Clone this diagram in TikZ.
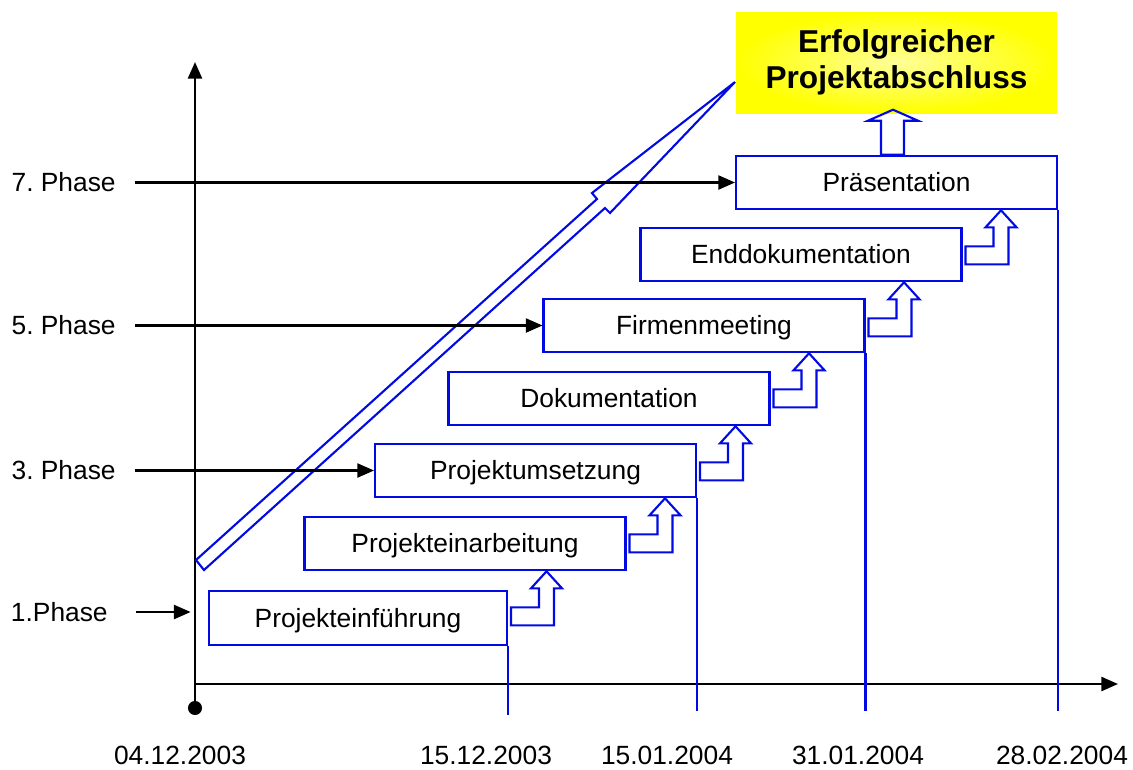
\documentclass[tikz,border=0pt]{standalone}
\usepackage{fontspec}
\setmainfont{Liberation Sans}
\usetikzlibrary{arrows.meta,calc}
\definecolor{flowblue}{RGB}{0,10,225}
\definecolor{goalyellow}{RGB}{255,255,0}
\frenchspacing

% step arrow from one phase box up to the next one
\newcommand{\stepup}[2]{%
  \draw[flow] ($(#1.east |- #2.south)+(3,54)$) -- ++(0,-18) -- ++(28,0) -- ++(0,-19)
    -- ++(-8,0) -- ++(15.5,-17) -- ++(15.5,17) -- ++(-8,0) -- ++(0,37) -- cycle;}

\begin{document}
\begin{tikzpicture}[x=0.02cm,y=-0.02cm,
    phasebox/.style={draw=flowblue,line width=1.2pt,minimum width=6.42cm,minimum height=1.07cm,
      inner sep=0pt,text height=10.7pt,text depth=0pt,font=\fontsize{15}{18}\selectfont},
    goalbox/.style={shading=radial,inner color=goalyellow!40,outer color=goalyellow,
      minimum width=6.42cm,minimum height=2.02cm,inner sep=0pt,align=center,
      font=\fontsize{18}{20.5}\selectfont\bfseries},
    flow/.style={draw=flowblue,line width=1.2pt},
    axis/.style={line width=1.4pt,-{Triangle[length=9.5pt,width=8pt]}},
    phasearrow/.style={line width=1.3pt,-{Triangle[length=9.5pt,width=8pt]},shorten <=11pt},
    phaselabel/.style={anchor=east,inner sep=0pt,font=\fontsize{15}{18}\selectfont},
    datelabel/.style={inner sep=0pt,font=\fontsize{15}{18}\selectfont},
    dateline/.style={flowblue,line width=1.3pt}]
  \useasboundingbox (0,0) rectangle (1133,769);

  % Axes
  \coordinate (origin) at (195,708);
  \coordinate (o) at (195,684);
  \coordinate (ytip) at (195,62);
  \coordinate (xtip) at (1118,684);
  \coordinate (base) at (0,711);
  \draw[axis] (origin) -- (ytip);
  \draw[axis] (o) -- (xtip);
  \fill (origin) circle (4pt);

  % Phases
  \node[phasebox,minimum width=5.96cm] (b1) at (358,618) {Projekteinführung};
  \node[phasebox] (b2) at (465,543.5) {Projekteinarbeitung};
  \node[phasebox] (b3) at (535.5,470.5) {Projektumsetzung};
  \node[phasebox] (b4) at (609,398.5) {Dokumentation};
  \node[phasebox] (b5) at (704,325.5) {Firmenmeeting};
  \node[phasebox] (b6) at (801,254.5) {Enddokumentation};
  \node[phasebox] (b7) at (896.5,182.5) {Präsentation};
  \node[goalbox] (goal) at (896.5,62.5) {Erfolgreicher\\Projektabschluss};

  % Steps
  \stepup{b1}{b2}
  \stepup{b2}{b3}
  \stepup{b3}{b4}
  \stepup{b4}{b5}
  \stepup{b5}{b6}
  \stepup{b6}{b7}
  \draw[flow] (b7.north) ++(-15.5,0) -- ++(0,-34) -- ++(-13,0) -- ++(25,-11)
    -- ++(25,11) -- ++(-14,0) -- ++(0,34) -- cycle;

  % Overall progress
  \draw[flow] (196,560) -- (597,199) -- (592,193) -- (735,82) -- (610,213)
    -- (605,208) -- (204,570) -- cycle;

  % Milestones
  \draw[dateline] (b1.south east) -- (b1.south east |- 0,715);
  \draw[dateline] (b3.south east) -- (b3.south east |- base);
  \draw[dateline] (b5.south east) -- (b5.south east |- base);
  \draw[dateline] (b7.south east) -- (b7.south east |- base);

  \node[datelabel] (d0) at (180,755) {04.12.2003};
  \node[datelabel] (d1) at (486,755) {15.12.2003};
  \node[datelabel] (d2) at (667,755) {15.01.2004};
  \node[datelabel] (d3) at (858,755) {31.01.2004};
  \node[datelabel] (d4) at (1062,755) {28.02.2004};

  % Phase labels
  \node[phaselabel] (p1) at (108,612) {1.Phase};
  \node[phaselabel] (p3) at (116,470.5) {3. Phase};
  \node[phaselabel] (p5) at (116,325.5) {5. Phase};
  \node[phaselabel] (p7) at (116,182.5) {7. Phase};
  \draw[phasearrow,shorten <=16pt,shorten >=2.5pt] (p1.east) -- (p1.east -| o);
  \draw[phasearrow] (p3.east) -- (b3.west);
  \draw[phasearrow] (p5.east) -- (b5.west);
  \draw[phasearrow] (p7.east) -- (b7.west);
\end{tikzpicture}
\end{document}
